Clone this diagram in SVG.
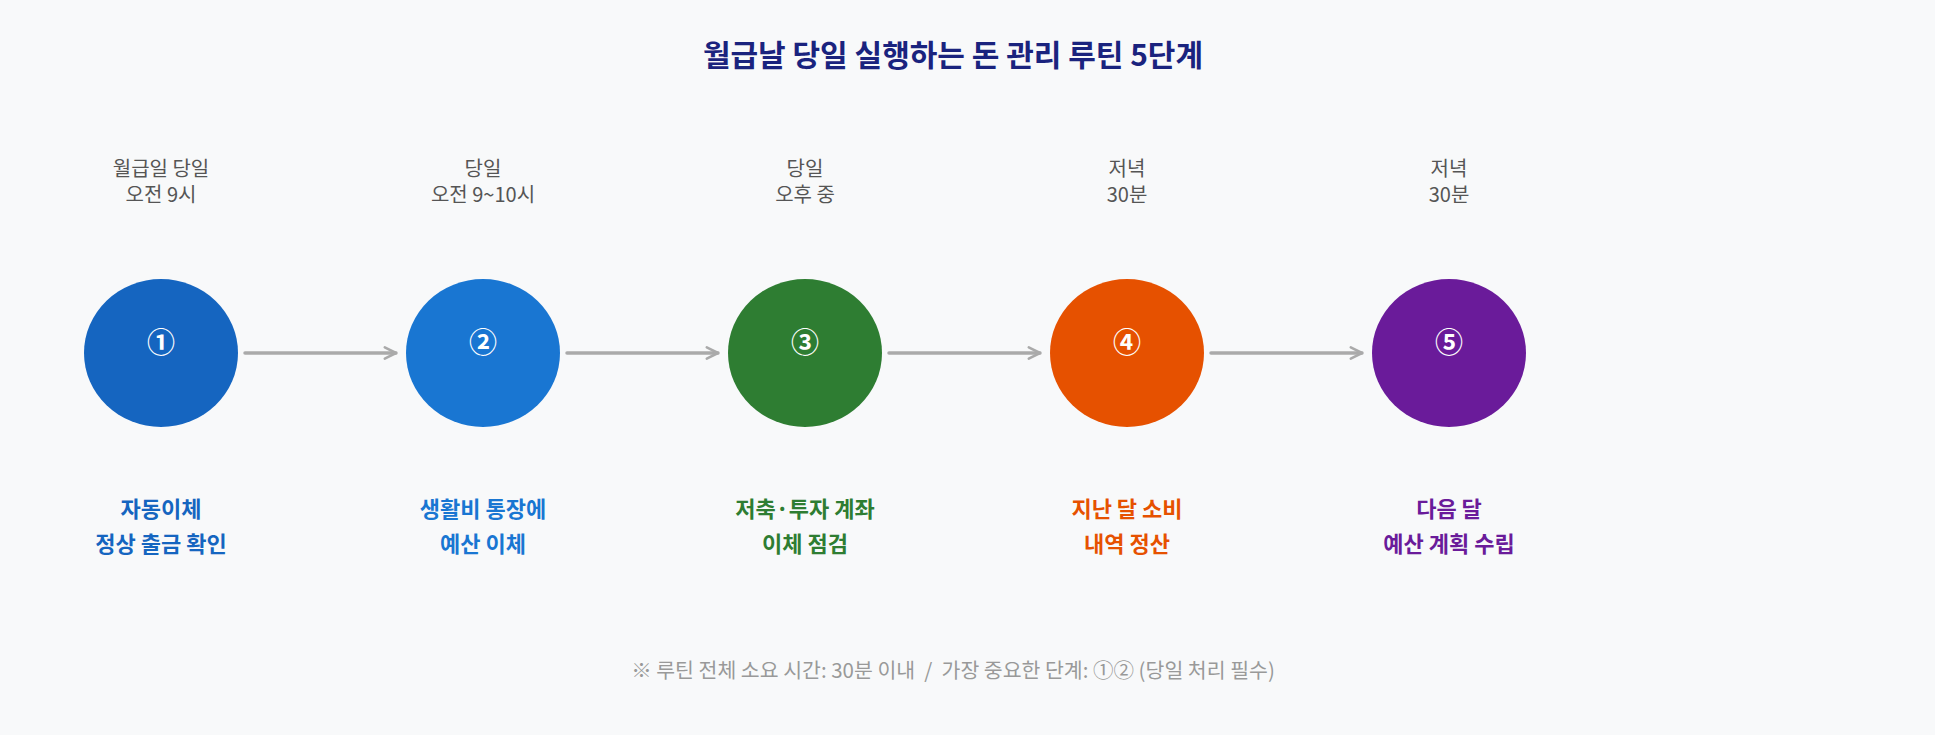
<svg xmlns="http://www.w3.org/2000/svg" width="1935" height="735" viewBox="0 0 1935 735">
<style>
text{font-family:"Noto Sans CJK KR","Noto Sans",sans-serif;text-anchor:middle}
.title{font-size:30px;font-weight:700;fill:#1a237e}
.time{font-size:20px;fill:#555555}
.num{font-size:28px;font-weight:700;fill:#ffffff}
.lbl{font-size:22px;font-weight:700}
.note{font-size:20.5px;fill:#999999}
.conn{stroke:#aaaaaa;stroke-width:3.5;fill:none;stroke-linecap:round;stroke-linejoin:round}
</style>
<defs>
<marker id="ah" viewBox="0 0 10 10" refX="9" refY="5" markerWidth="4" markerHeight="4" orient="auto" markerUnits="strokeWidth">
<path d="M1,1 L9,5 L1,9" fill="none" stroke="#aaaaaa" stroke-width="1.8" stroke-linecap="round" stroke-linejoin="round"/>
</marker>
</defs>
<rect width="1935" height="735" fill="#f8f9fa"/>
<text class="title" x="953" y="66">월급날 당일 실행하는 돈 관리 루틴 5단계</text>
<g id="connectors">
<line class="conn" x1="245" y1="353" x2="396" y2="353" marker-end="url(#ah)"/>
<line class="conn" x1="567" y1="353" x2="718" y2="353" marker-end="url(#ah)"/>
<line class="conn" x1="889" y1="353" x2="1040" y2="353" marker-end="url(#ah)"/>
<line class="conn" x1="1211" y1="353" x2="1362" y2="353" marker-end="url(#ah)"/>
</g>
<g id="node1">
<text class="time" x="161" y="176">월급일 당일</text>
<text class="time" x="161" y="202">오전 9시</text>
<ellipse cx="161" cy="353" rx="77" ry="74" fill="#1565c0"/>
<text class="num" x="161" y="353">①</text>
<text class="lbl" x="161" y="517" fill="#1565c0">자동이체</text>
<text class="lbl" x="161" y="552" fill="#1565c0">정상 출금 확인</text>
</g>
<g id="node2">
<text class="time" x="483" y="176">당일</text>
<text class="time" x="483" y="202">오전 9~10시</text>
<ellipse cx="483" cy="353" rx="77" ry="74" fill="#1976d2"/>
<text class="num" x="483" y="353">②</text>
<text class="lbl" x="483" y="517" fill="#1976d2">생활비 통장에</text>
<text class="lbl" x="483" y="552" fill="#1976d2">예산 이체</text>
</g>
<g id="node3">
<text class="time" x="805" y="176">당일</text>
<text class="time" x="805" y="202">오후 중</text>
<ellipse cx="805" cy="353" rx="77" ry="74" fill="#2e7d32"/>
<text class="num" x="805" y="353">③</text>
<text class="lbl" x="805" y="517" fill="#2e7d32">저축·투자 계좌</text>
<text class="lbl" x="805" y="552" fill="#2e7d32">이체 점검</text>
</g>
<g id="node4">
<text class="time" x="1127" y="176">저녁</text>
<text class="time" x="1127" y="202">30분</text>
<ellipse cx="1127" cy="353" rx="77" ry="74" fill="#e65100"/>
<text class="num" x="1127" y="353">④</text>
<text class="lbl" x="1127" y="517" fill="#e65100">지난 달 소비</text>
<text class="lbl" x="1127" y="552" fill="#e65100">내역 정산</text>
</g>
<g id="node5">
<text class="time" x="1449" y="176">저녁</text>
<text class="time" x="1449" y="202">30분</text>
<ellipse cx="1449" cy="353" rx="77" ry="74" fill="#6a1b9a"/>
<text class="num" x="1449" y="353">⑤</text>
<text class="lbl" x="1449" y="517" fill="#6a1b9a">다음 달</text>
<text class="lbl" x="1449" y="552" fill="#6a1b9a">예산 계획 수립</text>
</g>
<text class="note" x="953" y="678" xml:space="preserve">※ 루틴 전체 소요 시간: 30분 이내  /  가장 중요한 단계: ①② (당일 처리 필수)</text>
</svg>
